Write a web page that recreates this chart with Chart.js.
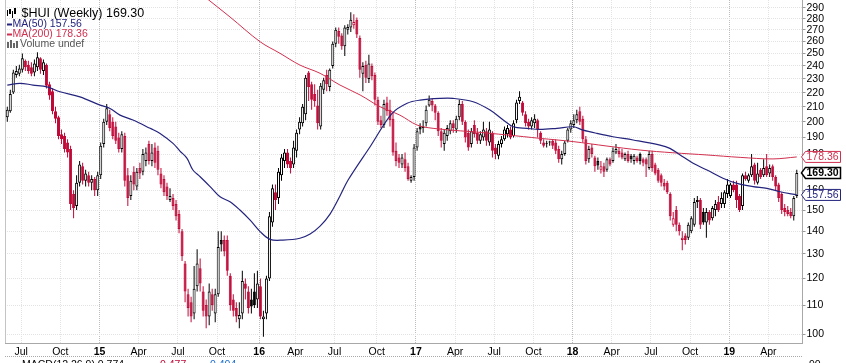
<!DOCTYPE html>
<html>
<head>
<meta charset="utf-8">
<script src="https://cdn.jsdelivr.net/npm/chart.js@4.4.1/dist/chart.umd.min.js"></script>
<style>
  html, body { margin: 0; padding: 0; background: #fff; }
  canvas { display: block; }
</style>
</head>
<body>
<canvas id="hui" width="846" height="363"></canvas>
<script>
// $HUI weekly candles, one entry per week (week 0 = end of May 2014)
const openP = [
  203,207,220,233,234,237,244,241,239,235,
  239,246,236,241,226,221,207,203,192,191,
  187,183,158,152,164,173,165,168,164,166,
  160,168,186,200,205,200,197,190,183,191,
  168,157,170,162,172,170,176,186,176,184,
  182,169,166,162,155,156,153,148,140,126,
  114,111,107,117,124,115,110,106,114,107,
  114,136,136,136,121,112,109,105,107,118,
  115,112,115,112,117,105,107,120,144,159,
  156,168,176,181,176,174,182,195,199,205,
  235,226,219,211,197,222,233,224,240,258,
  269,265,256,270,272,274,279,263,234,241,
  230,240,233,215,201,198,213,208,202,182,
  178,174,177,173,165,167,184,197,196,199,
  211,214,211,206,194,186,191,194,199,195,
  203,212,200,193,186,198,193,188,190,194,
  187,193,184,179,186,189,192,195,191,201,
  214,213,205,200,197,199,201,193,187,186,
  187,188,187,183,177,180,188,195,198,201,
  207,202,189,177,184,178,176,171,173,171,
  177,176,181,182,181,177,180,179,176,178,
  180,177,177,172,180,174,171,168,164,164,
  158,143,150,143,136,138,137,140,143,154,
  155,149,144,149,146,150,154,153,153,158,
  157,163,163,157,152,168,165,168,174,164,
  171,168,173,169,173,167,163,158,151,150,
  149,147,157
];
const highP = [
  210,222,237,240,241,250,245,244,243,245,
  251,247,245,242,228,223,210,204,195,193,
  189,185,160,168,176,175,171,170,168,167,
  170,187,202,212,208,203,200,193,194,193,
  172,168,173,172,175,183,184,188,186,187,
  185,172,168,164,161,158,155,150,141,127,
  116,113,125,132,128,117,112,118,116,116,
  140,140,138,138,122,114,111,111,123,120,
  117,116,122,123,120,108,121,149,163,163,
  172,180,183,183,178,188,195,203,212,233,
  236,228,226,222,227,231,237,238,260,272,
  272,267,274,275,286,284,281,265,243,244,
  249,242,235,217,204,215,217,215,206,187,
  180,180,181,175,168,186,196,199,201,211,
  218,216,212,207,196,195,198,201,201,204,
  215,214,201,195,196,201,196,194,200,196,
  200,194,186,188,191,197,198,197,201,215,
  221,214,207,202,203,205,202,194,189,188,
  188,189,189,185,182,188,196,201,205,208,
  210,204,191,185,186,179,178,176,175,178,
  178,184,186,184,183,181,182,180,180,179,
  181,178,178,182,182,175,172,169,166,165,
  159,149,152,144,140,139,144,147,156,157,
  156,151,151,150,152,155,157,159,160,166,
  164,165,165,158,169,170,169,180,175,175,
  172,177,180,174,174,168,164,159,153,152,
  151,157,171
];
const lowP = [
  200,206,219,231,232,235,236,234,232,232,
  236,234,233,223,215,205,199,189,186,181,
  178,150,146,150,162,163,162,162,160,157,
  157,166,184,198,194,189,186,181,181,162,
  152,155,160,160,166,168,173,174,173,172,
  168,161,157,155,154,150,145,139,127,111,
  106,104,105,115,115,106,102,103,108,104,
  113,131,129,121,108,106,104,102,105,112,
  107,107,109,109,105,99.2,105,119,142,150,
  153,165,172,172,169,172,178,192,197,201,
  214,208,210,195,195,219,221,221,238,255,
  258,253,248,266,268,271,263,231,221,227,
  227,229,211,198,196,196,204,197,179,173,
  172,172,170,165,164,165,182,192,193,197,
  210,207,201,191,184,182,188,192,193,193,
  201,198,187,182,184,190,186,186,188,185,
  185,178,177,177,184,188,190,189,190,199,
  212,204,197,195,195,196,190,186,184,184,
  185,183,180,175,174,179,187,193,196,199,
  198,187,174,175,178,170,171,169,167,170,
  173,175,180,178,177,176,175,175,174,175,
  174,173,167,171,170,168,164,162,160,158,
  145,142,140,138,131.5,134,136,139,142,151,
  141,143,137,143,145,147,149,151,151,156,
  156,159,151,149,150,165,164,167,163,163,
  166,167,167,167,165,160,154,148,147,147,
  146,145,156
];
const closeP = [
  208,219,235,236,238,246,239,236,234,242,
  247,237,243,225,218,207,202,191,189,183,
  181,153,151,164,174,165,169,164,166,160,
  168,185,200,209,196,191,188,183,192,165,
  156,165,163,170,169,180,181,176,181,175,
  171,163,159,157,157,152,147,141,129,115,
  109,106,116,126,118,108,106,115,110,114,
  133,134,131,123,110,108,106,106.5,119,116,
  109,109.5,110,118,106,106,120,147,161,155,
  170,178,181,174,172,184,193,200,210,231,
  224,215,214,199,225,229,226,237,258,270,
  264,256,272,272.5,279,277,266,237,240,231,
  242,232,215,200,198,212,207,201,181,176,
  175,178,172,166,167,184,194,195,197,208,
  215,211,206,194,188,193,196,199,196,202,
  212,200,190,184,194,192,188,192,195,188,
  195,182,180,186,189,195,196,190,199,213,
  217,206,199,197,201,202,195,188,185,186.5,
  187.5,185,182,177,180,187,195,199,201,205,
  200,189,176,183,180,173,173.5,173,170,177,
  174,182,183,180,178,180,176,177,179,176,
  176,175,174,180,172,169,165,164,162,159,
  147,146,143,140,137,136,143,146,154,155,
  143,144,149,145,151,153,150,156,159,163,
  163,160,155,150,168,166,168,173,165,169,
  167,172,168,172,167,162,156,150,149,148,
  147,156,169.3
];

// moving averages (week index, value)
const ma50Week = [0,4.2,8.5,13.2,17.5,24.1,30.8,34.1,37.4,41.7,47.4,50.7,55,57.3,59.6,61.6,64,67.3,70.6,73.9,
  77.2,80.6,83.9,87.2,91.5,97.1,100.5,103.8,107.1,110.4,113.1,120.4,127.7,132.7,137,143.6,147.9,154.6,160.2,164.6,
  167.9,172.5,176.8,182.4,187.8,191.1,195.7,201,207.7,216.6,219.9,223.3,227.6,232.2,237.5,242.2,247.5,252.1,256.5,262];
const ma50Val = [225.5,226.8,225.5,224.2,220.6,217,211.2,208.9,204.4,201.2,195.8,192.6,186.4,181.8,177.7,170.9,167.2,161.9,156.6,154.1,
  150,145.1,139.8,136.3,136,136.8,138.7,142.3,148,157,165.4,184.4,205.6,212.5,214.7,215.9,215.9,213.5,207.8,201.2,
  196.8,195.8,195.1,195.8,196.8,194.7,192.6,190.5,188.5,185.4,183.4,179.5,174.7,170.9,166.4,163.6,161.9,161,159.2,157.56];
const ma200Week = [65.6,73.9,83.9,90.5,97.1,103.8,110.4,117.1,123.7,130.3,136,141.3,150.3,154.6,165.9,176.8,187.8,199,210,220.9,232.2,243.2,254.1,262];
const ma200Val = [300.5,281.6,259.7,250.1,240.7,234.3,225.5,218.3,210.1,204.4,197.9,195.8,194.2,193.6,191.6,189.5,187.5,184.8,182.4,180.8,179.5,178.1,177.2,178.36];

// axis ticks
const quarterWeek = [5,18,31,44,57,70,84,96,109,123,136,149,162,175,188,201,214,227,240,253];
const quarterLabel = ['Jul','Oct','15','Apr','Jul','Oct','16','Apr','Jul','Oct','17','Apr','Jul','Oct','18','Apr','Jul','Oct','19','Apr'];
const priceTicks = [100,110,120,130,140,150,160,170,180,190,200,210,220,230,240,250,260,270,280,290];

const FONT = '"Liberation Sans", Arial, sans-serif';
const RED = '#bf0a38';
const NAVY = '#24247e';
const MA200_RED = '#d0304f';

// candle colours: hollow when close > open, red when close < previous close
const edgeColor = [], fillColor = [];
for (let i = 0; i < closeP.length; i++) {
  const col = (i === 0 || closeP[i] >= closeP[i - 1]) ? '#000000' : RED;
  edgeColor.push(col);
  fillColor.push(closeP[i] > openP[i] ? '#ffffff' : col);
}

const bodies = closeP.map((c, i) => ({ x: i, y: [openP[i], c] }));
const wicks = highP.map((h, i) => ({ x: i, y: [lowP[i], h] }));
const ma50 = ma50Week.map((w, i) => ({ x: w, y: ma50Val[i] }));
const ma200 = ma200Week.map((w, i) => ({ x: w, y: ma200Val[i] }));

function isYear(i) { return /^\d+$/.test(quarterLabel[i] || ''); }

function drawTag(ctx, y, text, color, bold) {
  const tip = 801.5, x1 = 805.5, x2 = 840.5, h = 5.5;
  ctx.save();
  ctx.beginPath();
  ctx.moveTo(tip, y);
  ctx.lineTo(x1, y - h);
  ctx.lineTo(x2, y - h);
  ctx.lineTo(x2, y + h);
  ctx.lineTo(x1, y + h);
  ctx.closePath();
  ctx.fillStyle = '#fff';
  ctx.fill();
  ctx.strokeStyle = color;
  ctx.lineWidth = bold ? 1.5 : 1;
  ctx.stroke();
  ctx.fillStyle = color;
  ctx.font = (bold ? 'bold ' : '') + '10.5px ' + FONT;
  ctx.textBaseline = 'middle';
  ctx.fillText(text, 806.5, y + 0.5);
  ctx.restore();
}

const extras = {
  id: 'extras',
  beforeDraw(chart) {
    const ctx = chart.ctx;
    ctx.save();
    ctx.fillStyle = '#fff';
    ctx.fillRect(0, 0, chart.width, chart.height);
    ctx.restore();
  },
  beforeDatasetsDraw(chart) {
    const { ctx, chartArea } = chart;
    ctx.save();
    ctx.strokeStyle = '#c4c4c4';
    ctx.lineWidth = 1;
    ctx.beginPath();
    ctx.moveTo(chartArea.left + 0.5, chartArea.top);
    ctx.lineTo(chartArea.left + 0.5, chartArea.bottom);
    ctx.stroke();
    ctx.restore();
  },
  afterDraw(chart) {
    const { ctx, chartArea } = chart;
    const ys = chart.scales.y;
    ctx.save();
    // legend block
    ctx.textBaseline = 'middle';
    ctx.fillStyle = '#000';
    ctx.fillRect(7, 10, 1, 6);
    ctx.fillRect(9, 9, 2, 5);
    ctx.fillRect(12, 11, 1, 7);
    ctx.fillRect(14, 8, 2, 6);
    ctx.font = '12.5px ' + FONT;
    ctx.fillText('$HUI (Weekly) 169.30', 21.5, 14);

    ctx.font = '10.5px ' + FONT;
    ctx.fillStyle = NAVY;
    ctx.fillRect(7, 23.5, 5, 2);
    ctx.fillText('MA(50) 157.56', 12.5, 24.5);
    ctx.fillStyle = MA200_RED;
    ctx.fillRect(7, 33.5, 5, 2);
    ctx.fillText('MA(200) 178.36', 12.5, 34.5);
    ctx.fillStyle = '#666';
    ctx.fillRect(7, 42, 2, 6);
    ctx.fillRect(10, 40, 2, 8);
    ctx.fillRect(13, 43, 2, 5);
    ctx.fillRect(16, 41, 2, 7);
    ctx.fillStyle = '#555';
    ctx.fillText('Volume undef', 20, 44.5);

    // price tags on the right axis
    drawTag(ctx, ys.getPixelForValue(178.36), '178.36', MA200_RED, false);
    drawTag(ctx, ys.getPixelForValue(169.30), '169.30', '#000', true);
    drawTag(ctx, ys.getPixelForValue(157.56), '157.56', NAVY, false);

    // top edge of the next panel
    ctx.strokeStyle = '#aaa';
    ctx.setLineDash([1, 1]);
    ctx.beginPath();
    ctx.moveTo(chartArea.left, 356.5);
    ctx.lineTo(chartArea.right, 356.5);
    ctx.stroke();
    ctx.setLineDash([]);
    ctx.textBaseline = 'top';
    ctx.font = '10.5px ' + FONT;
    ctx.fillStyle = '#000';
    ctx.fillText('MACD(12,26,9) 0.774,', 22, 359.5);
    ctx.fillStyle = RED;
    ctx.fillText('0.477,', 160, 359.5);
    ctx.fillStyle = '#1a6fd0';
    ctx.fillText('0.404', 210, 359.5);
    ctx.fillStyle = '#000';
    ctx.fillText('90', 809, 359.5);
    ctx.restore();
  }
};

new Chart(document.getElementById('hui'), {
  type: 'bar',
  data: {
    datasets: [
      {
        type: 'line', data: ma50, borderColor: NAVY, borderWidth: 1.2,
        pointRadius: 0, tension: 0.35, fill: false, order: 0
      },
      {
        type: 'line', data: ma200, borderColor: MA200_RED, borderWidth: 1,
        pointRadius: 0, tension: 0.35, fill: false, order: 0
      },
      {
        data: bodies, backgroundColor: fillColor, borderColor: edgeColor,
        borderWidth: 1, borderSkipped: false, barThickness: 3,
        grouped: false, inflateAmount: 0, order: 1
      },
      {
        data: wicks, backgroundColor: edgeColor, borderWidth: 0,
        barThickness: 1, grouped: false, inflateAmount: 0, order: 2
      }
    ]
  },
  options: {
    responsive: false,
    animation: false,
    events: [],
    layout: { padding: { left: 5, top: 0, right: 0, bottom: 0 } },
    plugins: { legend: { display: false }, tooltip: { enabled: false } },
    scales: {
      x: {
        type: 'linear',
        min: -0.76,
        max: 263.9,
        offset: false,
        afterBuildTicks: (s) => { s.ticks = quarterWeek.map(w => ({ value: w - 0.4 })); },
        afterFit: (s) => { s.height = 20; s.paddingLeft = 0; s.paddingRight = 0; },
        grid: {
          offset: false,
          drawTicks: false,
          color: (c) => isYear(c.index) ? '#bdbdbd' : '#e3e3e3'
        },
        border: { display: true, color: '#a8a8a8', dash: [1, 1] },
        ticks: {
          autoSkip: false,
          maxRotation: 0,
          padding: 3,
          color: '#000',
          font: (c) => ({ family: FONT, size: 10.5, weight: isYear(c.index) ? 'bold' : 'normal' }),
          callback: (v, i) => quarterLabel[i]
        }
      },
      y: {
        type: 'logarithmic',
        position: 'right',
        min: 97.2,
        max: 297.6,
        afterBuildTicks: (s) => { s.ticks = priceTicks.map(v => ({ value: v })); },
        afterFit: (s) => { s.width = 43.5; s.paddingTop = 0; s.paddingBottom = 0; },
        grid: { color: '#e3e3e3', tickColor: '#9a9a9a', tickLength: 3, drawTicks: true },
        border: { display: true, color: '#a8a8a8', dash: [1, 1] },
        ticks: {
          padding: 1,
          color: '#000',
          font: { family: FONT, size: 10.5 },
          callback: (v) => String(v)
        }
      }
    }
  },
  plugins: [extras]
});
</script>
</body>
</html>
